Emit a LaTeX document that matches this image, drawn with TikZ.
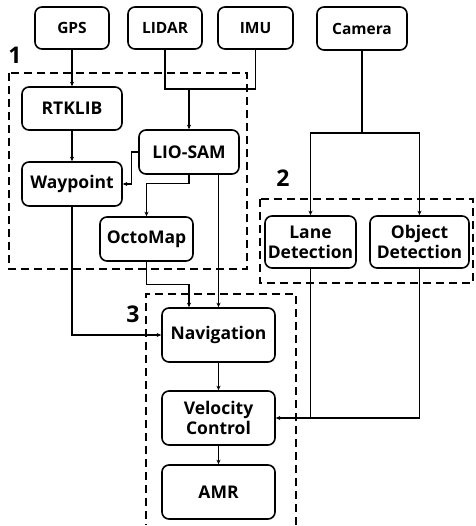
\documentclass[tikz,border=0pt]{standalone}
\usepackage{fontspec}
\setmainfont{Open Sans}
\usetikzlibrary{arrows.meta}
\begin{document}
\begin{tikzpicture}[x=1pt,y=-1pt,
  blk/.style={draw, line width=1.6pt, rounded corners=7pt, align=center,
    inner sep=0pt, font=\fontsize{17.5}{20}\selectfont\bfseries},
  srcblk/.style={blk, font=\fontsize{15.5}{18}\selectfont\bfseries},
  link/.style={line width=1.2pt},
  flow/.style={link, -{Stealth[length=4.5pt,width=4pt]}},
  group/.style={line width=2pt, dash pattern=on 8pt off 5pt},
  tag/.style={font=\fontsize{23}{26}\selectfont\bfseries, inner sep=0pt}]
\useasboundingbox (0,0) rectangle (475,526);

% sensors
\node[srcblk, minimum width=74pt, minimum height=42pt] (gps) at (72,28) {GPS};
\node[srcblk, minimum width=74pt, minimum height=42pt] (lidar) at (165,28) {LIDAR};
\node[srcblk, minimum width=75pt, minimum height=42pt] (imu) at (255.5,28) {IMU};
\node[srcblk, minimum width=90pt, minimum height=43pt] (cam) at (362,28.5) {Camera};

% localization and mapping
\node[blk, minimum width=100pt, minimum height=43pt] (rtk) at (72,108.5) {RTKLIB};
\node[blk, minimum width=100pt, minimum height=44pt] (wp) at (72,184) {Waypoint};
\node[blk, minimum width=100pt, minimum height=44pt] (lio) at (189,152) {LIO-SAM};
\node[blk, minimum width=93pt, minimum height=44pt] (octo) at (146.5,239) {OctoMap};

% perception
\node[blk, minimum width=91pt, minimum height=52pt] (lane) at (310.5,242) {Lane\\Detection};
\node[blk, minimum width=99pt, minimum height=52pt] (obj) at (419.5,242) {Object\\Detection};

% planning and control
\node[blk, minimum width=113pt, minimum height=54pt] (nav) at (218.5,335) {Navigation};
\node[blk, minimum width=113pt, minimum height=54pt] (vel) at (218.5,418) {Velocity\\Control};
\node[blk, minimum width=113pt, minimum height=54pt] (amr) at (218.5,492) {AMR};

% module groups
\draw[group] (9,73) rectangle (247,269);
\draw[group] (260,199) rectangle (473,283);
\draw[group] (296,525) -- (296,294) -- (146,294) -- (146,525);
\node[tag] (t1) at (15,55) {1};
\node[tag] (t2) at (283,178) {2};
\node[tag] (t3) at (133,314) {3};

% connectors
\draw[flow] (gps) -- (rtk);
\draw[flow] (rtk) -- (wp);
\coordinate (lj) at (189,89);
\draw[link] (lidar.south) |- (lj);
\draw[link] (imu.south) |- (lj);
\draw[flow] (lj) -- (lio.north);
\draw[flow] (lio.west) -- ++(-7,0) |- (wp.east);
\draw[flow] (lio.south) -- ++(0,9) -| (octo.north);
\draw[flow] (nav.north |- lio.south) -- (nav.north);
\draw[flow] (octo.south) -- ++(0,23) -| ([xshift=-29.5pt]nav.north);
\draw[flow] (wp.south) |- (nav.west);
\draw[flow] (nav) -- (vel);
\draw[flow] (vel) -- (amr);

\coordinate (cj) at (362,133);
\draw[link] (cam.south) -- (cj);
\draw[flow] (cj) -| (lane.north);
\draw[flow] (cj) -| (obj.north);
\draw[link] (lane.south) -- (lane.south |- vel.east);
\draw[flow] (obj.south) |- (vel.east);
\end{tikzpicture}
\end{document}
